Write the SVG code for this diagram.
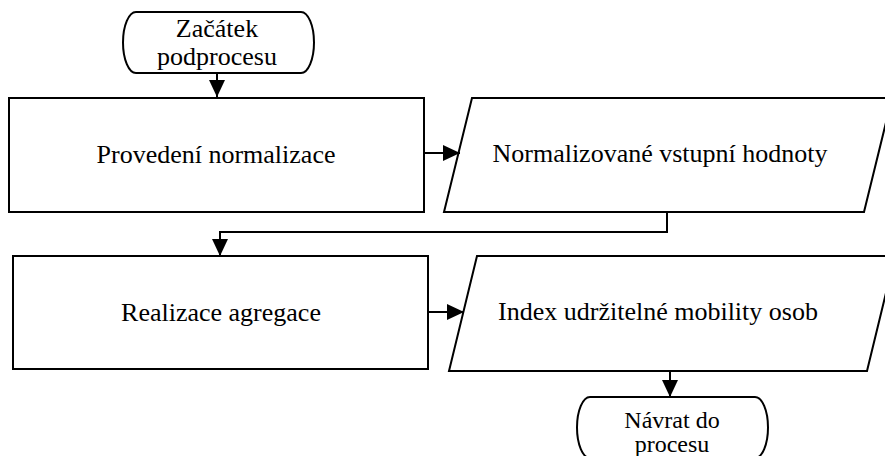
<svg xmlns="http://www.w3.org/2000/svg" width="885" height="456" viewBox="0 0 885 456">
  <style>
    .shape { fill: #ffffff; stroke: #000000; stroke-width: 2; }
    .label { font-family: "Liberation Serif", "Times New Roman", serif; font-size: 26px; fill: #000000; text-anchor: middle; }
    .small { font-size: 24px; }
    .conn { fill: none; stroke: #000000; stroke-width: 2; }
  </style>
  <defs>
    <marker id="arrow" markerUnits="userSpaceOnUse" markerWidth="18" markerHeight="17" refX="17" refY="8" orient="auto">
      <path d="M0,0 L17,8 L0,16 Z" fill="#000000"/>
    </marker>
  </defs>
  <rect width="885" height="456" fill="#ffffff"/>

  <g id="start">
    <path class="shape" d="M136,12 H301 A13,30.5 0 0 1 301,73 H136 A13,30.5 0 0 1 136,12 Z"/>
    <text class="label" x="217" y="37">Začátek</text>
    <text class="label" x="217" y="65">podprocesu</text>
  </g>

  <g id="normalize">
    <rect class="shape" x="9" y="98" width="415" height="114"/>
    <text class="label" x="216" y="163">Provedení normalizace</text>
  </g>

  <g id="normalized-values">
    <polygon class="shape" points="472,98 892,98 864,212 444,212"/>
    <text class="label" x="660" y="162">Normalizované vstupní hodnoty</text>
  </g>

  <g id="aggregate">
    <rect class="shape" x="13" y="256" width="415" height="113"/>
    <text class="label" x="221" y="321">Realizace agregace</text>
  </g>

  <g id="mobility-index">
    <polygon class="shape" points="477,256 895,256 867,371 449,371"/>
    <text class="label" x="658" y="320">Index udržitelné mobility osob</text>
  </g>

  <g id="end">
    <path class="shape" d="M590,397 H755 A13,30.5 0 0 1 755,458 H590 A13,30.5 0 0 1 590,397 Z"/>
    <text class="label small" x="672" y="428">Návrat do</text>
    <text class="label small" x="672" y="452">procesu</text>
  </g>

  <g id="connectors">
    <path class="conn" d="M217,73 V97" marker-end="url(#arrow)"/>
    <path class="conn" d="M424,153 H460" marker-end="url(#arrow)"/>
    <path class="conn" d="M667,212 V232 H220 V256" marker-end="url(#arrow)"/>
    <path class="conn" d="M428,312 H464" marker-end="url(#arrow)"/>
    <path class="conn" d="M670,371 V397" marker-end="url(#arrow)"/>
  </g>
</svg>
